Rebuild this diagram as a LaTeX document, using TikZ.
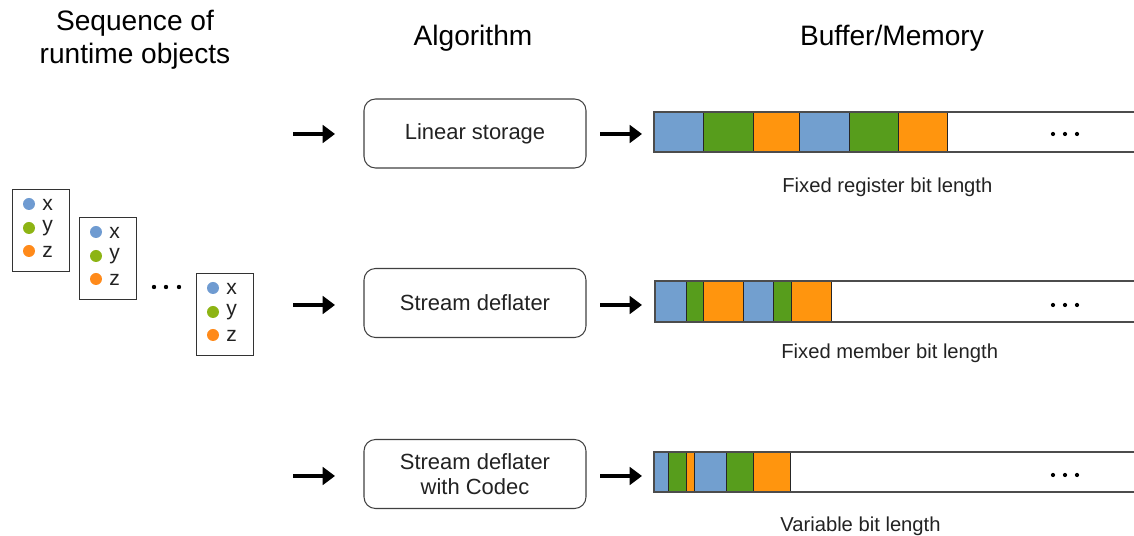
\documentclass[tikz,border=0pt]{standalone}
\usepackage{fontspec}
\setmainfont{Liberation Sans}
\usetikzlibrary{arrows.meta}
\definecolor{cblue}{HTML}{729FCF}
\definecolor{cgreen}{HTML}{579D1C}
\definecolor{corange}{HTML}{FF950E}
\definecolor{dblue}{HTML}{6F9BD1}
\definecolor{dgreen}{HTML}{8DB414}
\definecolor{dorange}{HTML}{FF8A1A}
\definecolor{txt}{HTML}{222222}
\tikzset{
  heading/.style={font=\fontsize{16}{18.5}\selectfont, text=black, align=center, inner sep=0pt},
  algobox/.style={draw=black!75, line width=0.6pt, rounded corners=6.5pt, minimum width=4.44cm, minimum height=1.38cm, align=center, text=txt, font=\fontsize{12.5}{14.5}\selectfont},
  caption/.style={anchor=west, text=txt, font=\fontsize{11.5}{13}\selectfont, inner sep=0pt},
  card/.style={draw=black!80, line width=0.6pt, fill=white, minimum width=1.14cm, minimum height=1.64cm, anchor=north west, inner sep=0pt},
  cardtxt/.style={anchor=west, text=txt, font=\fontsize{12}{14}\selectfont, inner sep=0pt},
  fatarrow/.style={line width=2.8pt, -{Triangle[length=7pt,width=10pt]}},
  seg/.style={draw=black!85, line width=0.5pt},
  bardot/.style={fill=black, draw=none, circle, minimum size=2.4pt, inner sep=0pt},
}
\newcommand\objcard[3]{%
  \node[card] (#1) at (#2,#3) {};
  \fill[dblue] (#2+17,#3+15) circle (6);
  \fill[dgreen] (#2+17,#3+39) circle (6);
  \fill[dorange] (#2+17,#3+62) circle (6);
  \node[cardtxt] (#1x) at (#2+30,#3+16) {x};
  \node[cardtxt] (#1y) at (#2+30,#3+39) {y};
  \node[cardtxt] (#1z) at (#2+30,#3+63) {z};
}
\newcommand\bardots[2]{%
  \node[bardot] (#1a) at (1053,#2) {};
  \node[bardot] (#1b) at (1065,#2) {};
  \node[bardot] (#1c) at (1077,#2) {};
}
\begin{document}
\begin{tikzpicture}[x=0.02cm,y=-0.02cm]
\useasboundingbox (0,0) rectangle (1134,536);

% headings
\node[heading] (h1) at (135,40) {Sequence of\\runtime objects};
\node[heading] (h2) at (473,38) {Algorithm};
\node[heading] (h3) at (892,38) {Buffer/Memory};

% object cards
\objcard{c1}{12}{189}
\objcard{c2}{79}{217}
\objcard{c3}{196}{273}
\fill (154,287) circle (2.2);
\fill (166,287) circle (2.2);
\fill (179,287) circle (2.2);

% algorithm boxes
\node[algobox] (a1) at (475,133.5) {Linear storage};
\node[algobox] (a2) at (475,303) {Stream deflater};
\node[algobox] (a3) at (475,474) {Stream deflater\\with Codec};

% arrows
\coordinate (l1s) at (293,134); \coordinate (l1e) at (335,134);
\coordinate (l2s) at (293,305); \coordinate (l2e) at (335,305);
\coordinate (l3s) at (293,476); \coordinate (l3e) at (335,476);
\coordinate (r1s) at (600,134); \coordinate (r1e) at (642,134);
\coordinate (r2s) at (600,305); \coordinate (r2e) at (642,305);
\coordinate (r3s) at (600,476); \coordinate (r3e) at (642,476);
\draw[fatarrow] (l1s) -- (l1e);
\draw[fatarrow] (l2s) -- (l2e);
\draw[fatarrow] (l3s) -- (l3e);
\draw[fatarrow] (r1s) -- (r1e);
\draw[fatarrow] (r2s) -- (r2e);
\draw[fatarrow] (r3s) -- (r3e);

% buffer 1
\fill[cblue] (654,112) rectangle (703,152);
\fill[cgreen] (703,112) rectangle (753,152);
\fill[corange] (753,112) rectangle (799,152);
\fill[cblue] (799,112) rectangle (849,152);
\fill[cgreen] (849,112) rectangle (898,152);
\fill[corange] (898,112) rectangle (947,152);
\foreach \x in {703,753,799,849,898,947} \draw[seg] (\x,112) -- (\x,152);
\draw[black!70, line width=0.6pt] (1136,112) -- (654,112) -- (654,152) -- (1136,152);
\bardots{d1}{134}
\node[caption] (t1) at (782,187) {Fixed register bit length};

% buffer 2
\fill[cblue] (655,281) rectangle (686,322);
\fill[cgreen] (686,281) rectangle (703,322);
\fill[corange] (703,281) rectangle (743,322);
\fill[cblue] (743,281) rectangle (773,322);
\fill[cgreen] (773,281) rectangle (791,322);
\fill[corange] (791,281) rectangle (831,322);
\foreach \x in {686,703,743,773,791,831} \draw[seg] (\x,281) -- (\x,322);
\draw[black!70, line width=0.6pt] (1136,281) -- (655,281) -- (655,322) -- (1136,322);
\bardots{d2}{305}
\node[caption] (t2) at (781,353) {Fixed member bit length};

% buffer 3
\fill[cblue] (654,452) rectangle (668,492);
\fill[cgreen] (668,452) rectangle (686,492);
\fill[corange] (686,452) rectangle (694,492);
\fill[cblue] (694,452) rectangle (726,492);
\fill[cgreen] (726,452) rectangle (753,492);
\fill[corange] (753,452) rectangle (790,492);
\foreach \x in {668,686,694,726,753,790} \draw[seg] (\x,452) -- (\x,492);
\draw[black!70, line width=0.6pt] (1136,452) -- (654,452) -- (654,492) -- (1136,492);
\bardots{d3}{475}
\node[caption] (t3) at (780,526) {Variable bit length};
\end{tikzpicture}
\end{document}
